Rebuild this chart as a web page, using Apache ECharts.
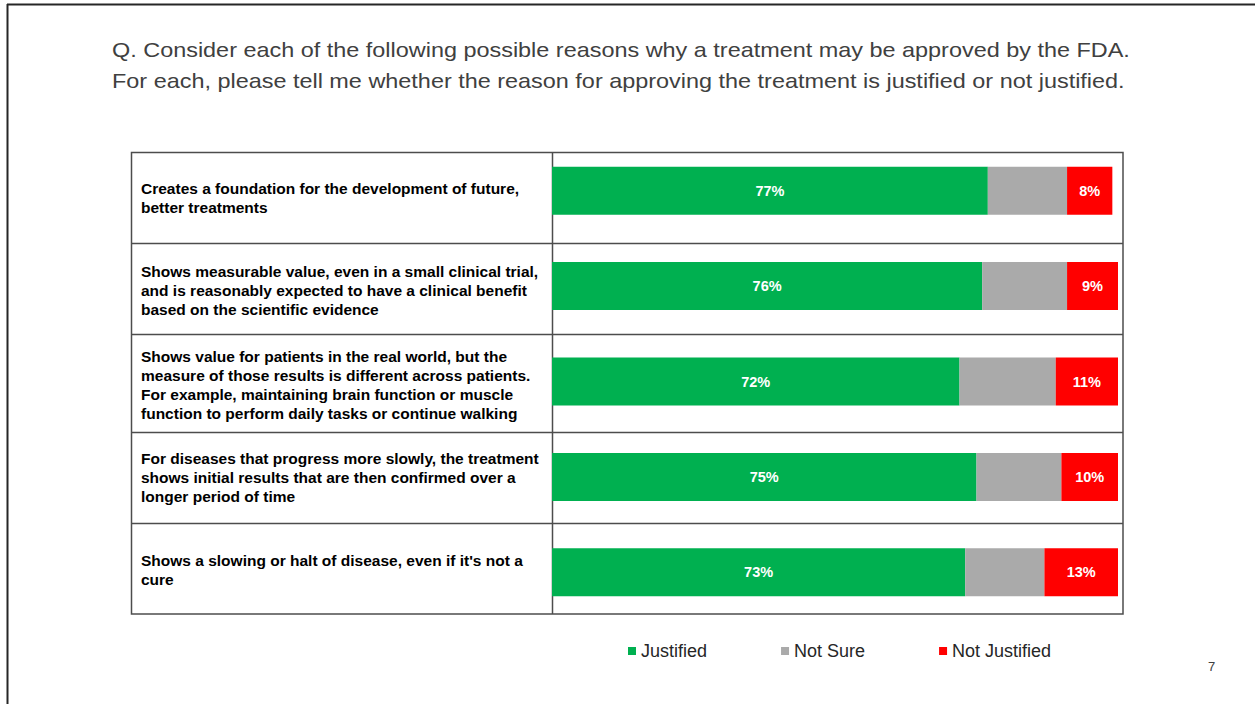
<!DOCTYPE html>
<html>
<head>
<meta charset="utf-8">
<style>
  html, body { margin: 0; padding: 0; background: #fff; }
  #chart { width: 1255px; height: 704px; }
</style>
<script src="https://cdn.jsdelivr.net/npm/echarts@6/dist/echarts.min.js"></script>
</head>
<body>
<div id="chart"></div>
<script>
// data
var reasons = [
  'Creates a foundation for the development of future,\nbetter treatments',
  'Shows measurable value, even in a small clinical trial,\nand is reasonably expected to have a clinical benefit\nbased on the scientific evidence',
  'Shows value for patients in the real world, but the\nmeasure of those results is different across patients.\nFor example, maintaining brain function or muscle\nfunction to perform daily tasks or continue walking',
  'For diseases that progress more slowly, the treatment\nshows initial results that are then confirmed over a\nlonger period of time',
  "Shows a slowing or halt of disease, even if it's not a\ncure"
];
var justified = [77, 76, 72, 75, 73];
var notSure = [14, 15, 17, 15, 14];
var notJustified = [8, 9, 11, 10, 13];
var seriesNames = ['Justified', 'Not Sure', 'Not Justified'];

var questionText = 'Q. Consider each of the following possible reasons why a treatment may be approved by the FDA.\nFor each, please tell me whether the reason for approving the treatment is justified or not justified.';

var font = '"Liberation Sans", Arial, sans-serif';
var green = '#00b050';
var grey = '#aaaaaa';
var red = '#ff0000';
var lineCol = '#4d4d4d';

// small nudges so each label sits in the middle of its table row
var labelShift = [7, 4, 3, 1, -2];

var chart = echarts.init(document.getElementById('chart'), null, { renderer: 'svg' });

function hLine(y, x1, x2, w, c) {
  return { type: 'line', shape: { x1: x1, y1: y, x2: x2, y2: y }, style: { stroke: c, lineWidth: w }, silent: true };
}
function vLine(x, y1, y2, w, c) {
  return { type: 'line', shape: { x1: x, y1: y1, x2: x, y2: y2 }, style: { stroke: c, lineWidth: w }, silent: true };
}

var barLabel = {
  show: true,
  position: 'inside',
  color: '#fff',
  fontWeight: 'bold',
  fontSize: 14.5,
  fontFamily: font,
  formatter: '{c}%'
};

var labelRich = {};
labelShift.forEach(function(s, i) {
  labelRich['r' + i] = {
    fontFamily: font,
    fontSize: 15.5,
    fontWeight: 'bold',
    color: '#000',
    lineHeight: 19,
    padding: s >= 0 ? [2 * s, 0, 0, 0] : [0, 0, -2 * s, 0]
  };
});

var option = {
  backgroundColor: '#fff',
  animation: false,
  legend: {
    data: seriesNames,
    left: 623,
    top: 637,
    itemWidth: 8,
    itemHeight: 8,
    itemGap: 74,
    icon: 'rect',
    textStyle: { fontFamily: font, fontSize: 18, color: '#262626' }
  },
  grid: {
    left: 552,
    right: 137,
    top: 143,
    height: 477,
    containLabel: false
  },
  xAxis: {
    type: 'value',
    min: 0,
    max: 100,
    show: false
  },
  yAxis: {
    type: 'category',
    inverse: true,
    data: reasons,
    axisLine: { show: false },
    axisTick: { show: false },
    splitLine: { show: false },
    axisLabel: {
      align: 'left',
      margin: 411,
      formatter: function(value, idx) {
        return '{r' + idx + '|' + value + '}';
      },
      rich: labelRich
    }
  },
  series: [
    {
      name: seriesNames[0],
      type: 'bar',
      stack: 'total',
      barWidth: 48,
      data: justified,
      itemStyle: { color: green },
      label: barLabel
    },
    {
      name: seriesNames[1],
      type: 'bar',
      stack: 'total',
      barWidth: 48,
      data: notSure,
      itemStyle: { color: grey },
      label: { show: false }
    },
    {
      name: seriesNames[2],
      type: 'bar',
      stack: 'total',
      barWidth: 48,
      data: notJustified,
      itemStyle: { color: red },
      label: barLabel
    }
  ],
  graphic: [
    // slide frame
    hLine(4.5, 7, 1255, 2, '#262626'),
    vLine(7.5, 4, 704, 2, '#262626'),
    // question text, stretched a little to match the slide's wide type
    {
      type: 'text',
      x: 112,
      y: 34.5,
      scaleX: 1.172,
      style: {
        text: questionText,
        fontFamily: font,
        fontSize: 20,
        lineHeight: 31,
        fill: '#404040'
      },
      silent: true
    },
    // table
    {
      type: 'rect',
      shape: { x: 131.5, y: 152.5, width: 991.5, height: 461.5 },
      style: { fill: 'none', stroke: lineCol, lineWidth: 1.5 },
      silent: true,
      z: 10
    },
    vLine(552.5, 152.5, 614, 1.5, lineCol),
    hLine(243.5, 131.5, 1123, 1.5, lineCol),
    hLine(334.5, 131.5, 1123, 1.5, lineCol),
    hLine(432.5, 131.5, 1123, 1.5, lineCol),
    hLine(523.5, 131.5, 1123, 1.5, lineCol),
    // page number
    {
      type: 'text',
      x: 1208,
      y: 660,
      style: { text: '7', fontFamily: font, fontSize: 13, fill: '#404040' },
      silent: true
    }
  ]
};

chart.setOption(option);
window.addEventListener('resize', function() { chart.resize(); });
</script>
</body>
</html>
